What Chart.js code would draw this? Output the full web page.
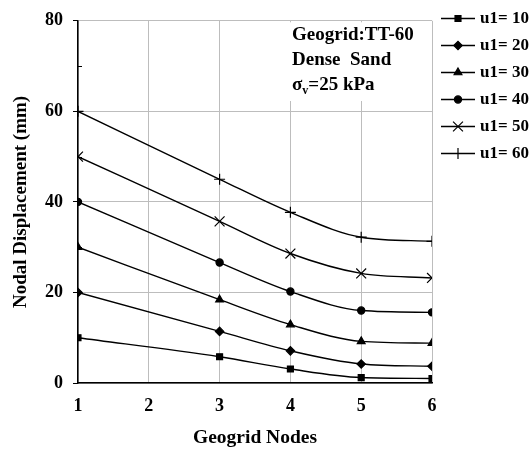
<!DOCTYPE html>
<html>
<head>
<meta charset="utf-8">
<script src="https://cdn.jsdelivr.net/npm/chart.js@4.4.1/dist/chart.umd.min.js"></script>
<style>
  html, body { margin: 0; padding: 0; background: #fff; }
  canvas { display: block; }
</style>
</head>
<body>
<canvas id="c" width="532" height="450"></canvas>
<script>
// ---- data ----
const nodes = [1, 3, 4, 5, 6];
const seriesLabels = ['u1= 10', 'u1= 20', 'u1= 30', 'u1= 40', 'u1= 50', 'u1= 60'];
const u10 = [10, 5.8, 3.1, 1.2, 1.0];
const u20 = [20, 11.4, 7.1, 4.2, 3.7];
const u30 = [30, 18.4, 12.9, 9.2, 8.8];
const u40 = [40, 26.6, 20.2, 16.0, 15.6];
const u50 = [50, 35.7, 28.6, 24.2, 23.2];
const u60 = [60, 45.0, 37.7, 32.2, 31.3];
const xTicks = [1, 2, 3, 4, 5, 6];
const yTicks = [0, 20, 40, 60, 80];
const annotationLines = ['Geogrid:TT-60', 'Dense  Sand'];

const seriesValues = [u10, u20, u30, u40, u50, u60];
const markerStyles = ['rect', 'rectRot', 'triangle', 'circle', 'crossRot', 'cross'];
const markerRadius = [4.2, 4.2, 4.5, 3.6, 7, 5.5];

const FONT = "'Liberation Serif', 'Times New Roman', serif";

const datasets = seriesValues.map((vals, i) => ({
  label: seriesLabels[i],
  data: nodes.map((x, j) => ({ x: x, y: vals[j] })),
  showLine: true,
  borderColor: '#000',
  backgroundColor: '#000',
  borderWidth: 1.4,
  pointStyle: markerStyles[i],
  pointRadius: markerRadius[i],
  pointHoverRadius: markerRadius[i],
  pointBorderWidth: 1.2,
  pointBorderColor: '#000',
  pointBackgroundColor: '#000',
  cubicInterpolationMode: 'monotone'
}));

const decorPlugin = {
  id: 'decor',
  beforeDatasetsDraw(chart) {
    const ctx = chart.ctx;
    const area = chart.chartArea;
    const ys = chart.scales.y;
    // minor inward ticks on the y axis
    ctx.save();
    ctx.strokeStyle = '#000';
    ctx.lineWidth = 1;
    [10, 30, 50, 70].forEach(v => {
      const py = Math.round(ys.getPixelForValue(v)) + 0.5;
      ctx.beginPath();
      ctx.moveTo(area.left, py);
      ctx.lineTo(area.left + 4, py);
      ctx.stroke();
    });
    // annotation box (white) with text
    ctx.fillStyle = '#fff';
    ctx.fillRect(268, area.top + 1.5, area.right - 1 - 268, 101 - area.top - 1.5);
    ctx.fillStyle = '#000';
    ctx.font = "bold 19px " + FONT;
    ctx.textBaseline = 'alphabetic';
    ctx.textAlign = 'left';
    const x0 = 292;
    ctx.fillText(annotationLines[0], x0, 40);
    ctx.fillText(annotationLines[1], x0, 65);
    let x = x0;
    ctx.fillText('\u03C3', x, 90);
    x += ctx.measureText('\u03C3').width;
    ctx.font = "bold 12px " + FONT;
    ctx.fillText('v', x, 94);
    x += ctx.measureText('v').width;
    ctx.font = "bold 19px " + FONT;
    ctx.fillText('=25 kPa', x, 90);
    ctx.restore();
  },
  afterDraw(chart) {
    // legend on the right
    const ctx = chart.ctx;
    const rowsY = [18, 45, 72, 99, 126, 153];
    ctx.save();
    chart.data.datasets.forEach((ds, i) => {
      const y = rowsY[i];
      ctx.strokeStyle = '#000';
      ctx.lineWidth = 1.4;
      ctx.beginPath();
      ctx.moveTo(441, y + 0.5);
      ctx.lineTo(475, y + 0.5);
      ctx.stroke();
      ctx.fillStyle = '#000';
      ctx.lineWidth = 1.2;
      Chart.helpers.drawPoint(ctx, { pointStyle: ds.pointStyle, radius: ds.pointRadius, rotation: 0, borderWidth: 1.2 }, 458, y + 0.5);
      ctx.fillStyle = '#000';
      ctx.font = "bold 17px " + FONT;
      ctx.textAlign = 'left';
      ctx.textBaseline = 'middle';
      ctx.fillText(ds.label, 480, y + 1);
    });
    ctx.restore();
  }
};

new Chart(document.getElementById('c'), {
  type: 'scatter',
  data: { datasets: datasets },
  plugins: [decorPlugin],
  options: {
    responsive: false,
    animation: false,
    devicePixelRatio: 1,
    layout: { padding: { left: 0, right: 100, top: 18, bottom: 0 } },
    plugins: { legend: { display: false }, tooltip: { enabled: false } },
    scales: {
      x: {
        type: 'linear',
        min: 1, max: 6,
        afterFit: s => { s.height = 67; },
        afterBuildTicks: s => { s.ticks = xTicks.map(v => ({ value: v })); },
        ticks: { color: '#000', font: { family: FONT, size: 18, weight: 'bold' }, padding: 13 },
        grid: { color: '#bdbdbd', lineWidth: 1, drawTicks: false, tickLength: 0 },
        border: { color: '#000', width: 1.5, dash: [] },
        title: { display: true, text: 'Geogrid Nodes', color: '#000', font: { family: FONT, size: 19.5, weight: 'bold' }, padding: { top: 0, bottom: 0 } }
      },
      y: {
        type: 'linear',
        min: 0, max: 80,
        afterFit: s => { s.width = 78; },
        afterBuildTicks: s => { s.ticks = yTicks.map(v => ({ value: v })); },
        ticks: { color: '#000', font: { family: FONT, size: 18, weight: 'bold' }, padding: 10 },
        grid: { color: '#bdbdbd', lineWidth: 1, tickLength: 5, tickColor: '#000' },
        border: { color: '#000', width: 1.5 },
        title: { display: true, text: 'Nodal Displacement (mm)', color: '#000', font: { family: FONT, size: 19, weight: 'bold' }, padding: { top: 10, bottom: 0 } }
      }
    }
  }
});
</script>
</body>
</html>
